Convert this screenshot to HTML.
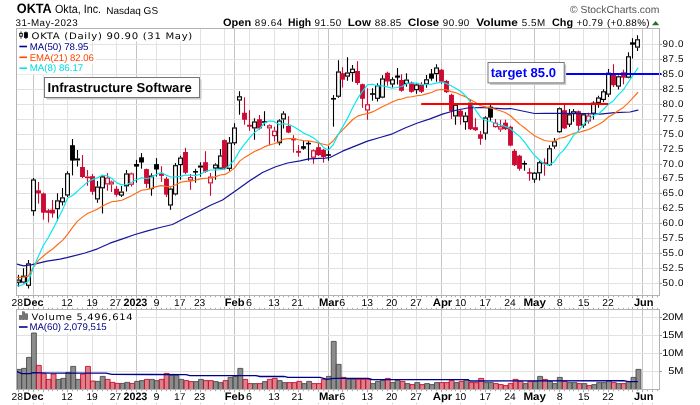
<!DOCTYPE html>
<html><head><meta charset="utf-8"><title>OKTA</title>
<style>
html,body{margin:0;padding:0;background:#fff}
svg{display:block;will-change:transform}
text{font-family:"Liberation Sans",sans-serif;font-size:10px;fill:#000;text-rendering:geometricPrecision}
.v{font-family:"DejaVu Sans","Liberation Sans",sans-serif}
</style></head><body>
<svg width="700" height="405" viewBox="0 0 700 405">
<rect width="700" height="405" fill="#fff"/>
<!-- header -->
<text x="16.75" y="13.3" textLength="35.04" lengthAdjust="spacingAndGlyphs" style="font-size:13.6px;font-weight:bold" >OKTA</text>
<text x="55.0" y="13.3" textLength="46.0" lengthAdjust="spacingAndGlyphs" style="font-size:11.9px" >Okta, Inc.</text>
<text x="106.25" y="13.5" textLength="51.8" lengthAdjust="spacing" style="font-size:10px" >Nasdaq GS</text>
<text x="15.5" y="26.1" textLength="62.1" lengthAdjust="spacing" style="font-size:9.8px" >31-May-2023</text>
<text x="570.0" y="12.8" textLength="89.36" lengthAdjust="spacingAndGlyphs" style="font-size:10.3px;fill:#555" >© StockCharts.com</text>
<text x="223.0" y="25.7" textLength="28.1" lengthAdjust="spacingAndGlyphs" style="font-size:10.8px;font-weight:bold" >Open</text><text x="254.8" y="25.7" textLength="27.48" lengthAdjust="spacing" style="font-size:9.8px" >89.64</text><text x="288.0" y="25.7" textLength="23.1" lengthAdjust="spacingAndGlyphs" style="font-size:10.8px;font-weight:bold" >High</text><text x="314.5" y="25.7" textLength="26.6" lengthAdjust="spacing" style="font-size:9.8px" >91.50</text><text x="347.8" y="25.7" textLength="23.1" lengthAdjust="spacingAndGlyphs" style="font-size:10.8px;font-weight:bold" >Low</text><text x="374.8" y="25.7" textLength="26.48" lengthAdjust="spacing" style="font-size:9.8px" >88.85</text>
<text x="408.0" y="25.7" textLength="31.1" lengthAdjust="spacingAndGlyphs" style="font-size:10.8px;font-weight:bold" >Close</text><text x="442.8" y="25.7" textLength="26.48" lengthAdjust="spacing" style="font-size:9.8px" >90.90</text><text x="476.2" y="25.7" textLength="41.72" lengthAdjust="spacingAndGlyphs" style="font-size:10.8px;font-weight:bold" >Volume</text><text x="521.8" y="25.7" textLength="23.48" lengthAdjust="spacing" style="font-size:9.8px" >5.5M</text><text x="552.0" y="25.7" textLength="21.1" lengthAdjust="spacingAndGlyphs" style="font-size:10.8px;font-weight:bold" >Chg</text><text x="576.4" y="25.7" textLength="26.5" lengthAdjust="spacing" style="font-size:9.8px" >+0.79</text><text x="607.0" y="25.7" textLength="42.48" lengthAdjust="spacing" style="font-size:9.8px" >(+0.88%)</text>
<path d="M652 25.3L655.6 21L659.2 25.3Z" fill="#2a6e2a"/>
<!-- main chart -->
<g>
<path d="M33.5 29V295" stroke="#c4c4c4" stroke-width="1"/>
<path d="M43.5 29V295" stroke="#e2e2e2" stroke-width="1"/>
<path d="M67.5 29V295" stroke="#e2e2e2" stroke-width="1"/>
<path d="M92.5 29V295" stroke="#e2e2e2" stroke-width="1"/>
<path d="M116.5 29V295" stroke="#e2e2e2" stroke-width="1"/>
<path d="M136.5 29V295" stroke="#c4c4c4" stroke-width="1"/>
<path d="M156.5 29V295" stroke="#e2e2e2" stroke-width="1"/>
<path d="M180.5 29V295" stroke="#e2e2e2" stroke-width="1"/>
<path d="M200.5 29V295" stroke="#e2e2e2" stroke-width="1"/>
<path d="M224.5 29V295" stroke="#e2e2e2" stroke-width="1"/>
<path d="M234.5 29V295" stroke="#c4c4c4" stroke-width="1"/>
<path d="M249.5 29V295" stroke="#e2e2e2" stroke-width="1"/>
<path d="M274.5 29V295" stroke="#e2e2e2" stroke-width="1"/>
<path d="M298.5 29V295" stroke="#e2e2e2" stroke-width="1"/>
<path d="M318.5 29V295" stroke="#e2e2e2" stroke-width="1"/>
<path d="M328.5 29V295" stroke="#c4c4c4" stroke-width="1"/>
<path d="M342.5 29V295" stroke="#e2e2e2" stroke-width="1"/>
<path d="M367.5 29V295" stroke="#e2e2e2" stroke-width="1"/>
<path d="M392.5 29V295" stroke="#e2e2e2" stroke-width="1"/>
<path d="M416.5 29V295" stroke="#e2e2e2" stroke-width="1"/>
<path d="M441.5 29V295" stroke="#c4c4c4" stroke-width="1"/>
<path d="M460.5 29V295" stroke="#e2e2e2" stroke-width="1"/>
<path d="M485.5 29V295" stroke="#e2e2e2" stroke-width="1"/>
<path d="M510.5 29V295" stroke="#e2e2e2" stroke-width="1"/>
<path d="M534.5 29V295" stroke="#c4c4c4" stroke-width="1"/>
<path d="M559.5 29V295" stroke="#e2e2e2" stroke-width="1"/>
<path d="M583.5 29V295" stroke="#e2e2e2" stroke-width="1"/>
<path d="M608.5 29V295" stroke="#e2e2e2" stroke-width="1"/>
<path d="M632.5 29V295" stroke="#e2e2e2" stroke-width="1"/>
<path d="M642.5 29V295" stroke="#c4c4c4" stroke-width="1"/>
<path d="M652.5 29V295" stroke="#e2e2e2" stroke-width="1"/>
<path d="M17 283.5H659" stroke="#e2e2e2" stroke-width="1"/>
<path d="M660 283.5H662" stroke="#999" stroke-width="1"/>
<path d="M17 268.5H659" stroke="#e2e2e2" stroke-width="1"/>
<path d="M660 268.5H662" stroke="#999" stroke-width="1"/>
<path d="M17 253.5H659" stroke="#e2e2e2" stroke-width="1"/>
<path d="M660 253.5H662" stroke="#999" stroke-width="1"/>
<path d="M17 238.5H659" stroke="#e2e2e2" stroke-width="1"/>
<path d="M660 238.5H662" stroke="#999" stroke-width="1"/>
<path d="M17 223.5H659" stroke="#e2e2e2" stroke-width="1"/>
<path d="M660 223.5H662" stroke="#999" stroke-width="1"/>
<path d="M17 208.5H659" stroke="#e2e2e2" stroke-width="1"/>
<path d="M660 208.5H662" stroke="#999" stroke-width="1"/>
<path d="M17 193.5H659" stroke="#e2e2e2" stroke-width="1"/>
<path d="M660 193.5H662" stroke="#999" stroke-width="1"/>
<path d="M17 178.5H659" stroke="#e2e2e2" stroke-width="1"/>
<path d="M660 178.5H662" stroke="#999" stroke-width="1"/>
<path d="M17 164.5H659" stroke="#e2e2e2" stroke-width="1"/>
<path d="M660 164.5H662" stroke="#999" stroke-width="1"/>
<path d="M17 149.5H659" stroke="#e2e2e2" stroke-width="1"/>
<path d="M660 149.5H662" stroke="#999" stroke-width="1"/>
<path d="M17 134.5H659" stroke="#e2e2e2" stroke-width="1"/>
<path d="M660 134.5H662" stroke="#999" stroke-width="1"/>
<path d="M17 119.5H659" stroke="#e2e2e2" stroke-width="1"/>
<path d="M660 119.5H662" stroke="#999" stroke-width="1"/>
<path d="M17 104.5H659" stroke="#e2e2e2" stroke-width="1"/>
<path d="M660 104.5H662" stroke="#999" stroke-width="1"/>
<path d="M17 89.5H659" stroke="#e2e2e2" stroke-width="1"/>
<path d="M660 89.5H662" stroke="#999" stroke-width="1"/>
<path d="M17 74.5H659" stroke="#e2e2e2" stroke-width="1"/>
<path d="M660 74.5H662" stroke="#999" stroke-width="1"/>
<path d="M17 59.5H659" stroke="#e2e2e2" stroke-width="1"/>
<path d="M660 59.5H662" stroke="#999" stroke-width="1"/>
<path d="M17 44.5H659" stroke="#e2e2e2" stroke-width="1"/>
<path d="M660 44.5H662" stroke="#999" stroke-width="1"/>
</g>
<rect x="17" y="29" width="177" height="12.5" fill="#fff"/>
<rect x="17" y="41" width="72.5" height="11.5" fill="#fff"/>
<rect x="17" y="52" width="78.5" height="11.5" fill="#fff"/>
<rect x="17" y="63" width="68" height="11.3" fill="#fff"/>
<g shape-rendering="geometricPrecision">
<path d="M18.5 274.7V279.5M18.5 282.7V286.8" stroke="#000000" stroke-width="1.1"/>
<rect x="16.60" y="280.1" width="3.8" height="2.1" fill="#fff" stroke="#000000" stroke-width="1.15"/>
<path d="M23.5 268.3V275.7M23.5 282.7V283.2" stroke="#000000" stroke-width="1.1"/>
<rect x="21.60" y="276.2" width="3.8" height="5.9" fill="#fff" stroke="#000000" stroke-width="1.15"/>
<path d="M28.5 260.1V263.3M28.5 285.8V288.5" stroke="#000000" stroke-width="1.1"/>
<rect x="26.60" y="263.9" width="3.8" height="21.4" fill="#fff" stroke="#000000" stroke-width="1.15"/>
<path d="M33.5 178.0V179.4M33.5 211.2V215.7" stroke="#000000" stroke-width="1.1"/>
<rect x="31.60" y="180.0" width="3.8" height="30.7" fill="#fff" stroke="#000000" stroke-width="1.15"/>
<path d="M38.5 182.0V203.6" stroke="#cc0a33" stroke-width="1.1"/>
<rect x="36.05" y="190.3" width="4.9" height="3.2" fill="#cc0a33"/>
<path d="M43.5 192.6V219.6" stroke="#cc0a33" stroke-width="1.1"/>
<rect x="41.05" y="193.5" width="4.9" height="19.2" fill="#cc0a33"/>
<path d="M48.5 209.0V222.5" stroke="#cc0a33" stroke-width="1.1"/>
<rect x="46.05" y="210.3" width="4.9" height="2.5" fill="#cc0a33"/>
<path d="M52.5 200.0V217.7" stroke="#cc0a33" stroke-width="1.1"/>
<rect x="50.05" y="209.7" width="4.9" height="3.8" fill="#cc0a33"/>
<path d="M57.5 193.2V200.3M57.5 209.2V220.7" stroke="#000000" stroke-width="1.1"/>
<rect x="55.60" y="200.9" width="3.8" height="7.8" fill="#fff" stroke="#000000" stroke-width="1.15"/>
<path d="M62.5 188.1V197.3M62.5 202.3V205.6" stroke="#000000" stroke-width="1.1"/>
<rect x="60.60" y="197.9" width="3.8" height="3.9" fill="#fff" stroke="#000000" stroke-width="1.15"/>
<path d="M67.5 171.2V173.2M67.5 195.5V197.0" stroke="#000000" stroke-width="1.1"/>
<rect x="65.60" y="173.8" width="3.8" height="21.2" fill="#fff" stroke="#000000" stroke-width="1.15"/>
<path d="M72.5 139.0V175.4" stroke="#000000" stroke-width="1.1"/>
<rect x="70.05" y="145.2" width="4.9" height="15.4" fill="#000000"/>
<path d="M77.5 150.0V158.4M77.5 160.4V166.6" stroke="#000000" stroke-width="1.1"/>
<rect x="75.60" y="159.0" width="3.8" height="0.9" fill="#fff" stroke="#000000" stroke-width="1.15"/>
<path d="M82.5 155.0V178.0" stroke="#cc0a33" stroke-width="1.1"/>
<rect x="80.05" y="167.0" width="4.9" height="10.0" fill="#cc0a33"/>
<path d="M87.5 170.0V176.6M87.5 178.2V185.8" stroke="#cc0a33" stroke-width="1.1"/>
<rect x="85.60" y="177.1" width="3.8" height="0.5" fill="#fff" stroke="#cc0a33" stroke-width="1.15"/>
<path d="M92.5 174.0V194.8" stroke="#cc0a33" stroke-width="1.1"/>
<rect x="90.05" y="176.2" width="4.9" height="15.6" fill="#cc0a33"/>
<path d="M97.5 181.1V186.5M97.5 199.4V202.8" stroke="#000000" stroke-width="1.1"/>
<rect x="95.60" y="187.1" width="3.8" height="11.8" fill="#fff" stroke="#000000" stroke-width="1.15"/>
<path d="M102.5 174.7V176.3M102.5 188.3V213.5" stroke="#000000" stroke-width="1.1"/>
<rect x="100.60" y="176.9" width="3.8" height="10.9" fill="#fff" stroke="#000000" stroke-width="1.15"/>
<path d="M107.5 173.0V177.5M107.5 184.4V190.7" stroke="#cc0a33" stroke-width="1.1"/>
<rect x="105.60" y="178.1" width="3.8" height="5.8" fill="#fff" stroke="#cc0a33" stroke-width="1.15"/>
<path d="M111.5 180.5V181.5M111.5 184.4V192.0" stroke="#cc0a33" stroke-width="1.1"/>
<rect x="109.60" y="182.1" width="3.8" height="1.8" fill="#fff" stroke="#cc0a33" stroke-width="1.15"/>
<path d="M116.5 186.1V196.7" stroke="#cc0a33" stroke-width="1.1"/>
<rect x="114.05" y="188.8" width="4.9" height="6.0" fill="#cc0a33"/>
<path d="M121.5 186.1V191.5M121.5 195.6V197.0" stroke="#000000" stroke-width="1.1"/>
<rect x="119.60" y="192.1" width="3.8" height="3.0" fill="#fff" stroke="#000000" stroke-width="1.15"/>
<path d="M126.5 170.0V173.4M126.5 186.3V191.6" stroke="#000000" stroke-width="1.1"/>
<rect x="124.60" y="174.0" width="3.8" height="11.8" fill="#fff" stroke="#000000" stroke-width="1.15"/>
<path d="M131.5 172.6V173.3M131.5 184.7V186.6" stroke="#cc0a33" stroke-width="1.1"/>
<rect x="129.60" y="173.9" width="3.8" height="10.3" fill="#fff" stroke="#cc0a33" stroke-width="1.15"/>
<path d="M136.5 159.9V182.6" stroke="#000000" stroke-width="1.1"/>
<rect x="134.05" y="164.0" width="4.9" height="2.6" fill="#000000"/>
<path d="M141.5 153.1V168.7" stroke="#000000" stroke-width="1.1"/>
<rect x="139.05" y="157.3" width="4.9" height="5.2" fill="#000000"/>
<path d="M146.5 168.6V187.8" stroke="#cc0a33" stroke-width="1.1"/>
<rect x="144.05" y="169.1" width="4.9" height="14.8" fill="#cc0a33"/>
<path d="M151.5 173.3V175.5M151.5 189.1V195.8" stroke="#000000" stroke-width="1.1"/>
<rect x="149.60" y="176.1" width="3.8" height="12.5" fill="#fff" stroke="#000000" stroke-width="1.15"/>
<path d="M156.5 158.1V176.6" stroke="#000000" stroke-width="1.1"/>
<rect x="154.05" y="164.1" width="4.9" height="5.4" fill="#000000"/>
<path d="M161.5 166.2V181.9" stroke="#cc0a33" stroke-width="1.1"/>
<rect x="159.05" y="173.7" width="4.9" height="2.2" fill="#cc0a33"/>
<path d="M166.5 176.8V197.0" stroke="#cc0a33" stroke-width="1.1"/>
<rect x="164.05" y="178.8" width="4.9" height="15.9" fill="#cc0a33"/>
<path d="M170.5 187.5V188.5M170.5 205.5V209.7" stroke="#000000" stroke-width="1.1"/>
<rect x="168.60" y="189.1" width="3.8" height="15.9" fill="#fff" stroke="#000000" stroke-width="1.15"/>
<path d="M175.5 163.0V165.1M175.5 194.4V195.6" stroke="#000000" stroke-width="1.1"/>
<rect x="173.60" y="165.7" width="3.8" height="28.2" fill="#fff" stroke="#000000" stroke-width="1.15"/>
<path d="M180.5 155.8V157.5M180.5 165.1V179.7" stroke="#000000" stroke-width="1.1"/>
<rect x="178.60" y="158.1" width="3.8" height="6.5" fill="#fff" stroke="#000000" stroke-width="1.15"/>
<path d="M185.5 147.8V174.1" stroke="#cc0a33" stroke-width="1.1"/>
<rect x="183.05" y="152.0" width="4.9" height="20.8" fill="#cc0a33"/>
<path d="M190.5 174.1V177.0M190.5 180.5V189.8" stroke="#cc0a33" stroke-width="1.1"/>
<rect x="188.60" y="177.6" width="3.8" height="2.4" fill="#fff" stroke="#cc0a33" stroke-width="1.15"/>
<path d="M195.5 168.8V182.7" stroke="#000000" stroke-width="1.1"/>
<rect x="193.05" y="171.0" width="4.9" height="1.6" fill="#000000"/>
<path d="M200.5 162.2V165.5M200.5 167.5V176.7" stroke="#000000" stroke-width="1.1"/>
<rect x="198.60" y="166.1" width="3.8" height="0.9" fill="#fff" stroke="#000000" stroke-width="1.15"/>
<path d="M205.5 151.2V172.8" stroke="#cc0a33" stroke-width="1.1"/>
<rect x="203.05" y="162.2" width="4.9" height="9.4" fill="#cc0a33"/>
<path d="M210.5 173.1V176.5M210.5 183.4V195.8" stroke="#cc0a33" stroke-width="1.1"/>
<rect x="208.60" y="177.1" width="3.8" height="5.8" fill="#fff" stroke="#cc0a33" stroke-width="1.15"/>
<path d="M215.5 163.2V164.5M215.5 168.5V179.7" stroke="#000000" stroke-width="1.1"/>
<rect x="213.60" y="165.1" width="3.8" height="2.9" fill="#fff" stroke="#000000" stroke-width="1.15"/>
<path d="M220.5 149.0V155.4M220.5 168.6V170.0" stroke="#000000" stroke-width="1.1"/>
<rect x="218.60" y="156.0" width="3.8" height="12.1" fill="#fff" stroke="#000000" stroke-width="1.15"/>
<path d="M224.5 139.5V169.7" stroke="#cc0a33" stroke-width="1.1"/>
<rect x="222.05" y="140.1" width="4.9" height="28.5" fill="#cc0a33"/>
<path d="M229.5 137.1V142.5M229.5 168.8V170.8" stroke="#000000" stroke-width="1.1"/>
<rect x="227.60" y="143.1" width="3.8" height="25.2" fill="#fff" stroke="#000000" stroke-width="1.15"/>
<path d="M234.5 123.2V127.4M234.5 143.3V145.0" stroke="#000000" stroke-width="1.1"/>
<rect x="232.60" y="128.0" width="3.8" height="14.8" fill="#fff" stroke="#000000" stroke-width="1.15"/>
<path d="M239.5 91.3V96.2M239.5 100.5V114.7" stroke="#000000" stroke-width="1.1"/>
<rect x="237.60" y="96.8" width="3.8" height="3.2" fill="#fff" stroke="#000000" stroke-width="1.15"/>
<path d="M244.5 97.3V124.7" stroke="#cc0a33" stroke-width="1.1"/>
<rect x="242.05" y="112.8" width="4.9" height="7.0" fill="#cc0a33"/>
<path d="M249.5 110.2V130.8" stroke="#cc0a33" stroke-width="1.1"/>
<rect x="247.05" y="124.8" width="4.9" height="1.9" fill="#cc0a33"/>
<path d="M254.5 118.3V121.5M254.5 128.5V139.8" stroke="#000000" stroke-width="1.1"/>
<rect x="252.60" y="122.0" width="3.8" height="5.9" fill="#fff" stroke="#000000" stroke-width="1.15"/>
<path d="M259.5 115.0V129.7" stroke="#cc0a33" stroke-width="1.1"/>
<rect x="257.05" y="119.2" width="4.9" height="9.3" fill="#cc0a33"/>
<path d="M264.5 111.2V125.8" stroke="#000000" stroke-width="1.1"/>
<rect x="262.05" y="121.2" width="4.9" height="1.6" fill="#000000"/>
<path d="M269.5 124.5V125.2M269.5 128.4V145.2" stroke="#cc0a33" stroke-width="1.1"/>
<rect x="267.60" y="125.8" width="3.8" height="2.1" fill="#fff" stroke="#cc0a33" stroke-width="1.15"/>
<path d="M274.5 126.7V130.6M274.5 136.1V141.5" stroke="#cc0a33" stroke-width="1.1"/>
<rect x="272.60" y="131.2" width="3.8" height="4.4" fill="#fff" stroke="#cc0a33" stroke-width="1.15"/>
<path d="M279.5 119.2V120.5M279.5 143.3V145.2" stroke="#000000" stroke-width="1.1"/>
<rect x="277.60" y="121.0" width="3.8" height="21.7" fill="#fff" stroke="#000000" stroke-width="1.15"/>
<path d="M283.5 111.2V113.5M283.5 119.5V128.6" stroke="#000000" stroke-width="1.1"/>
<rect x="281.60" y="114.0" width="3.8" height="4.9" fill="#fff" stroke="#000000" stroke-width="1.15"/>
<path d="M288.5 116.2V133.2" stroke="#cc0a33" stroke-width="1.1"/>
<rect x="286.05" y="125.9" width="4.9" height="6.7" fill="#cc0a33"/>
<path d="M293.5 135.2V152.6" stroke="#cc0a33" stroke-width="1.1"/>
<rect x="291.05" y="138.4" width="4.9" height="2.0" fill="#cc0a33"/>
<path d="M298.5 145.1V156.6" stroke="#cc0a33" stroke-width="1.1"/>
<rect x="296.05" y="150.9" width="4.9" height="1.9" fill="#cc0a33"/>
<path d="M303.5 140.8V149.8" stroke="#000000" stroke-width="1.1"/>
<rect x="301.05" y="146.2" width="4.9" height="2.5" fill="#000000"/>
<path d="M308.5 140.8V160.7" stroke="#000000" stroke-width="1.1"/>
<rect x="306.05" y="142.8" width="4.9" height="1.6" fill="#000000"/>
<path d="M313.5 149.5V150.2M313.5 157.7V163.7" stroke="#cc0a33" stroke-width="1.1"/>
<rect x="311.60" y="150.8" width="3.8" height="6.4" fill="#fff" stroke="#cc0a33" stroke-width="1.15"/>
<path d="M318.5 143.2V156.0" stroke="#cc0a33" stroke-width="1.1"/>
<rect x="316.05" y="147.2" width="4.9" height="8.0" fill="#cc0a33"/>
<path d="M323.5 148.8V162.7" stroke="#cc0a33" stroke-width="1.1"/>
<rect x="321.05" y="149.8" width="4.9" height="7.2" fill="#cc0a33"/>
<path d="M328.5 146.2V160.7" stroke="#000000" stroke-width="1.1"/>
<rect x="326.05" y="154.2" width="4.9" height="1.6" fill="#000000"/>
<path d="M333.5 95.1V126.7" stroke="#000000" stroke-width="1.1"/>
<rect x="331.05" y="98.0" width="4.9" height="1.6" fill="#000000"/>
<path d="M338.5 60.2V71.5M338.5 96.8V97.7" stroke="#000000" stroke-width="1.1"/>
<rect x="336.60" y="72.0" width="3.8" height="24.2" fill="#fff" stroke="#000000" stroke-width="1.15"/>
<path d="M342.5 67.2V87.5" stroke="#cc0a33" stroke-width="1.1"/>
<rect x="340.05" y="73.2" width="4.9" height="6.5" fill="#cc0a33"/>
<path d="M347.5 57.2V72.5M347.5 76.7V80.7" stroke="#000000" stroke-width="1.1"/>
<rect x="345.60" y="73.0" width="3.8" height="3.1" fill="#fff" stroke="#000000" stroke-width="1.15"/>
<path d="M352.5 65.0V68.7M352.5 73.2V81.8" stroke="#000000" stroke-width="1.1"/>
<rect x="350.60" y="69.2" width="3.8" height="3.4" fill="#fff" stroke="#000000" stroke-width="1.15"/>
<path d="M357.5 61.2V84.8" stroke="#cc0a33" stroke-width="1.1"/>
<rect x="355.05" y="71.0" width="4.9" height="12.0" fill="#cc0a33"/>
<path d="M362.5 83.6V107.8" stroke="#cc0a33" stroke-width="1.1"/>
<rect x="360.05" y="84.2" width="4.9" height="14.6" fill="#cc0a33"/>
<path d="M367.5 88.3V104.2M367.5 110.5V119.8" stroke="#cc0a33" stroke-width="1.1"/>
<rect x="365.60" y="104.8" width="3.8" height="5.2" fill="#fff" stroke="#cc0a33" stroke-width="1.15"/>
<path d="M372.5 88.2V100.7" stroke="#000000" stroke-width="1.1"/>
<rect x="370.05" y="93.2" width="4.9" height="1.6" fill="#000000"/>
<path d="M377.5 83.3V85.2M377.5 98.8V101.6" stroke="#000000" stroke-width="1.1"/>
<rect x="375.60" y="85.8" width="3.8" height="12.5" fill="#fff" stroke="#000000" stroke-width="1.15"/>
<path d="M382.5 75.2V78.5M382.5 97.7V98.2" stroke="#000000" stroke-width="1.1"/>
<rect x="380.60" y="79.0" width="3.8" height="18.1" fill="#fff" stroke="#000000" stroke-width="1.15"/>
<path d="M387.5 71.7V85.7" stroke="#cc0a33" stroke-width="1.1"/>
<rect x="385.05" y="72.8" width="4.9" height="8.7" fill="#cc0a33"/>
<path d="M392.5 77.3V79.2M392.5 84.5V87.5" stroke="#000000" stroke-width="1.1"/>
<rect x="390.60" y="79.8" width="3.8" height="4.2" fill="#fff" stroke="#000000" stroke-width="1.15"/>
<path d="M397.5 68.0V84.5" stroke="#000000" stroke-width="1.1"/>
<rect x="395.05" y="75.5" width="4.9" height="2.2" fill="#000000"/>
<path d="M401.5 74.3V91.7" stroke="#cc0a33" stroke-width="1.1"/>
<rect x="399.05" y="80.0" width="4.9" height="10.8" fill="#cc0a33"/>
<path d="M406.5 73.2V79.6M406.5 84.1V86.7" stroke="#000000" stroke-width="1.1"/>
<rect x="404.60" y="80.1" width="3.8" height="3.4" fill="#fff" stroke="#000000" stroke-width="1.15"/>
<path d="M411.5 81.5V92.7" stroke="#cc0a33" stroke-width="1.1"/>
<rect x="409.05" y="82.6" width="4.9" height="9.2" fill="#cc0a33"/>
<path d="M416.5 83.2V84.5M416.5 90.3V93.8" stroke="#000000" stroke-width="1.1"/>
<rect x="414.60" y="85.0" width="3.8" height="4.7" fill="#fff" stroke="#000000" stroke-width="1.15"/>
<path d="M421.5 82.2V93.0" stroke="#cc0a33" stroke-width="1.1"/>
<rect x="419.05" y="84.8" width="4.9" height="7.0" fill="#cc0a33"/>
<path d="M426.5 75.0V79.2M426.5 84.3V87.7" stroke="#000000" stroke-width="1.1"/>
<rect x="424.60" y="79.8" width="3.8" height="4.0" fill="#fff" stroke="#000000" stroke-width="1.15"/>
<path d="M431.5 69.0V80.7" stroke="#000000" stroke-width="1.1"/>
<rect x="429.05" y="73.5" width="4.9" height="5.2" fill="#000000"/>
<path d="M436.5 64.2V67.5M436.5 74.2V81.7" stroke="#000000" stroke-width="1.1"/>
<rect x="434.60" y="68.0" width="3.8" height="5.6" fill="#fff" stroke="#000000" stroke-width="1.15"/>
<path d="M441.5 69.0V84.0" stroke="#cc0a33" stroke-width="1.1"/>
<rect x="439.05" y="69.7" width="4.9" height="12.0" fill="#cc0a33"/>
<path d="M446.5 79.8V92.8" stroke="#cc0a33" stroke-width="1.1"/>
<rect x="444.05" y="81.0" width="4.9" height="11.2" fill="#cc0a33"/>
<path d="M451.5 93.7V119.0" stroke="#cc0a33" stroke-width="1.1"/>
<rect x="449.05" y="94.8" width="4.9" height="16.3" fill="#cc0a33"/>
<path d="M455.5 104.0V104.7M455.5 116.5V124.7" stroke="#000000" stroke-width="1.1"/>
<rect x="453.60" y="105.2" width="3.8" height="10.7" fill="#fff" stroke="#000000" stroke-width="1.15"/>
<path d="M460.5 110.0V124.7" stroke="#cc0a33" stroke-width="1.1"/>
<rect x="458.05" y="110.7" width="4.9" height="6.0" fill="#cc0a33"/>
<path d="M465.5 112.2V115.6M465.5 122.3V129.8" stroke="#000000" stroke-width="1.1"/>
<rect x="463.60" y="116.1" width="3.8" height="5.6" fill="#fff" stroke="#000000" stroke-width="1.15"/>
<path d="M470.5 100.0V130.0" stroke="#cc0a33" stroke-width="1.1"/>
<rect x="468.05" y="102.5" width="4.9" height="26.7" fill="#cc0a33"/>
<path d="M475.5 118.2V131.0" stroke="#cc0a33" stroke-width="1.1"/>
<rect x="473.05" y="127.2" width="4.9" height="3.0" fill="#cc0a33"/>
<path d="M480.5 131.0V144.8" stroke="#cc0a33" stroke-width="1.1"/>
<rect x="478.05" y="134.3" width="4.9" height="4.5" fill="#cc0a33"/>
<path d="M485.5 116.3V117.5M485.5 133.7V139.7" stroke="#000000" stroke-width="1.1"/>
<rect x="483.60" y="118.0" width="3.8" height="15.1" fill="#fff" stroke="#000000" stroke-width="1.15"/>
<path d="M490.5 104.7V120.8" stroke="#000000" stroke-width="1.1"/>
<rect x="488.05" y="106.7" width="4.9" height="10.9" fill="#000000"/>
<path d="M495.5 119.0V122.7M495.5 127.2V127.8" stroke="#cc0a33" stroke-width="1.1"/>
<rect x="493.60" y="123.2" width="3.8" height="3.4" fill="#fff" stroke="#cc0a33" stroke-width="1.15"/>
<path d="M500.5 119.7V126.2M500.5 129.5V131.7" stroke="#cc0a33" stroke-width="1.1"/>
<rect x="498.60" y="126.8" width="3.8" height="2.2" fill="#fff" stroke="#cc0a33" stroke-width="1.15"/>
<path d="M505.5 119.7V130.0" stroke="#cc0a33" stroke-width="1.1"/>
<rect x="503.05" y="122.7" width="4.9" height="6.5" fill="#cc0a33"/>
<path d="M510.5 125.7V146.2" stroke="#cc0a33" stroke-width="1.1"/>
<rect x="508.05" y="126.8" width="4.9" height="18.8" fill="#cc0a33"/>
<path d="M514.5 149.0V166.0" stroke="#cc0a33" stroke-width="1.1"/>
<rect x="512.05" y="150.8" width="4.9" height="14.4" fill="#cc0a33"/>
<path d="M519.5 154.8V170.7" stroke="#cc0a33" stroke-width="1.1"/>
<rect x="517.05" y="155.7" width="4.9" height="13.1" fill="#cc0a33"/>
<path d="M524.5 160.7V170.7" stroke="#000000" stroke-width="1.1"/>
<rect x="522.05" y="163.0" width="4.9" height="1.6" fill="#000000"/>
<path d="M529.5 168.2V180.8" stroke="#cc0a33" stroke-width="1.1"/>
<rect x="527.05" y="172.1" width="4.9" height="1.6" fill="#cc0a33"/>
<path d="M534.5 172.0V172.7M534.5 179.7V182.7" stroke="#000000" stroke-width="1.1"/>
<rect x="532.60" y="173.2" width="3.8" height="5.9" fill="#fff" stroke="#000000" stroke-width="1.15"/>
<path d="M539.5 161.0V162.2M539.5 173.3V180.5" stroke="#000000" stroke-width="1.1"/>
<rect x="537.60" y="162.8" width="3.8" height="10.0" fill="#fff" stroke="#000000" stroke-width="1.15"/>
<path d="M544.5 158.3V175.7" stroke="#cc0a33" stroke-width="1.1"/>
<rect x="542.05" y="162.3" width="4.9" height="1.6" fill="#cc0a33"/>
<path d="M549.5 145.2V148.2M549.5 165.2V166.0" stroke="#000000" stroke-width="1.1"/>
<rect x="547.60" y="148.8" width="3.8" height="15.9" fill="#fff" stroke="#000000" stroke-width="1.15"/>
<path d="M554.5 138.0V141.2M554.5 146.5V148.7" stroke="#000000" stroke-width="1.1"/>
<rect x="552.60" y="141.8" width="3.8" height="4.2" fill="#fff" stroke="#000000" stroke-width="1.15"/>
<path d="M559.5 107.5V108.2M559.5 132.2V132.8" stroke="#000000" stroke-width="1.1"/>
<rect x="557.60" y="108.8" width="3.8" height="22.9" fill="#fff" stroke="#000000" stroke-width="1.15"/>
<path d="M564.5 104.2V129.0" stroke="#cc0a33" stroke-width="1.1"/>
<rect x="562.05" y="110.2" width="4.9" height="18.2" fill="#cc0a33"/>
<path d="M569.5 109.0V114.2M569.5 124.7V127.0" stroke="#000000" stroke-width="1.1"/>
<rect x="567.60" y="114.8" width="3.8" height="9.4" fill="#fff" stroke="#000000" stroke-width="1.15"/>
<path d="M573.5 109.0V111.2M573.5 114.0V121.7" stroke="#000000" stroke-width="1.1"/>
<rect x="571.60" y="111.8" width="3.8" height="1.7" fill="#fff" stroke="#000000" stroke-width="1.15"/>
<path d="M578.5 110.5V131.5" stroke="#cc0a33" stroke-width="1.1"/>
<rect x="576.05" y="111.2" width="4.9" height="14.6" fill="#cc0a33"/>
<path d="M583.5 113.2V114.2M583.5 125.5V127.7" stroke="#000000" stroke-width="1.1"/>
<rect x="581.60" y="114.8" width="3.8" height="10.2" fill="#fff" stroke="#000000" stroke-width="1.15"/>
<path d="M588.5 112.7V115.5M588.5 121.5V123.7" stroke="#cc0a33" stroke-width="1.1"/>
<rect x="586.60" y="116.0" width="3.8" height="4.9" fill="#fff" stroke="#cc0a33" stroke-width="1.15"/>
<path d="M593.5 101.2V102.7M593.5 113.8V119.5" stroke="#000000" stroke-width="1.1"/>
<rect x="591.60" y="103.2" width="3.8" height="10.0" fill="#fff" stroke="#000000" stroke-width="1.15"/>
<path d="M598.5 95.8V97.5M598.5 103.0V107.8" stroke="#000000" stroke-width="1.1"/>
<rect x="596.60" y="98.0" width="3.8" height="4.4" fill="#fff" stroke="#000000" stroke-width="1.15"/>
<path d="M603.5 89.2V91.3M603.5 100.0V102.2" stroke="#000000" stroke-width="1.1"/>
<rect x="601.60" y="91.8" width="3.8" height="7.6" fill="#fff" stroke="#000000" stroke-width="1.15"/>
<path d="M608.5 69.0V72.7M608.5 94.7V97.0" stroke="#000000" stroke-width="1.1"/>
<rect x="606.60" y="73.2" width="3.8" height="20.9" fill="#fff" stroke="#000000" stroke-width="1.15"/>
<path d="M613.5 64.2V87.0" stroke="#cc0a33" stroke-width="1.1"/>
<rect x="611.05" y="74.7" width="4.9" height="10.5" fill="#cc0a33"/>
<path d="M618.5 75.5V76.2M618.5 86.6V89.6" stroke="#000000" stroke-width="1.1"/>
<rect x="616.60" y="76.8" width="3.8" height="9.3" fill="#fff" stroke="#000000" stroke-width="1.15"/>
<path d="M623.5 69.7V84.3" stroke="#cc0a33" stroke-width="1.1"/>
<rect x="621.05" y="72.3" width="4.9" height="5.4" fill="#cc0a33"/>
<path d="M628.5 52.2V56.2M628.5 77.7V78.3" stroke="#000000" stroke-width="1.1"/>
<rect x="626.60" y="56.8" width="3.8" height="20.4" fill="#fff" stroke="#000000" stroke-width="1.15"/>
<path d="M632.5 38.2V58.5" stroke="#000000" stroke-width="1.1"/>
<rect x="630.05" y="42.3" width="4.9" height="2.4" fill="#000000"/>
<path d="M637.5 35.2V39.3M637.5 47.7V51.1" stroke="#000000" stroke-width="1.1"/>
<rect x="635.60" y="39.8" width="3.8" height="7.3" fill="#fff" stroke="#000000" stroke-width="1.15"/>
</g>
<path d="M17.0 264.2 L23.6 265.8 L32.2 264.6 L47.0 261.1 L60.0 259.2 L66.8 257.7 L85.0 253.0 L97.5 248.8 L110.0 243.2 L122.5 238.8 L135.0 234.5 L147.5 230.8 L160.0 227.5 L172.5 224.5 L185.0 218.0 L197.5 212.0 L210.0 205.5 L222.5 200.0 L237.5 189.5 L250.0 180.5 L262.5 172.5 L275.0 167.0 L287.5 163.0 L300.0 160.8 L308.8 158.8 L325.0 158.2 L330.0 157.5 L337.5 153.8 L342.5 151.2 L355.0 146.2 L367.5 141.2 L380.0 137.5 L392.5 133.8 L405.0 128.0 L417.5 123.0 L430.0 118.8 L442.5 114.2 L455.0 110.5 L467.5 108.0 L480.0 107.5 L492.5 108.2 L505.0 108.8 L510.5 108.5 L534.5 113.5 L545.0 113.4 L560.0 113.3 L585.0 113.6 L600.0 114.2 L615.0 112.7 L630.0 112.0 L637.9 110.2" fill="none" stroke="#15159a" stroke-width="1.25" stroke-linejoin="round" stroke-linecap="round"/>
<path d="M17.0 277.4 L18.6 277.4 L23.5 277.3 L28.4 276.1 L33.3 267.3 L38.2 260.6 L43.1 256.2 L48.0 252.2 L53.0 248.7 L57.9 244.3 L62.8 240.1 L67.7 234.1 L72.6 227.4 L77.5 221.1 L82.4 217.1 L87.4 213.5 L92.3 211.5 L97.2 209.2 L102.1 206.3 L107.0 203.7 L111.9 201.7 L116.8 201.1 L121.8 200.3 L126.7 197.9 L131.6 195.7 L136.5 193.0 L141.4 190.2 L146.3 189.6 L151.3 188.4 L156.2 186.6 L161.1 185.6 L166.0 186.4 L170.9 186.7 L175.8 184.7 L180.7 182.3 L185.7 181.4 L190.6 181.1 L195.5 180.2 L200.4 178.9 L205.3 178.2 L210.2 178.1 L215.2 176.9 L220.1 175.0 L225.0 174.4 L229.9 171.6 L234.8 167.6 L239.7 161.1 L244.6 157.4 L249.6 154.5 L254.5 151.5 L259.4 149.4 L264.3 146.9 L269.2 145.0 L274.1 143.7 L279.0 141.7 L284.0 139.1 L288.9 138.5 L293.8 138.6 L298.7 139.8 L303.6 140.6 L308.5 140.9 L313.4 141.8 L318.4 142.9 L323.3 144.2 L328.2 145.2 L333.1 141.0 L338.0 134.7 L342.9 129.7 L347.9 124.5 L352.8 119.5 L357.7 116.1 L362.6 114.5 L367.5 113.6 L372.4 111.9 L377.3 109.5 L382.3 106.7 L387.2 104.4 L392.1 102.1 L397.0 99.9 L401.9 99.0 L406.8 97.3 L411.8 96.8 L416.7 95.7 L421.6 95.3 L426.5 93.9 L431.4 92.5 L436.3 90.3 L441.2 89.5 L446.2 89.7 L451.1 91.6 L456.0 92.8 L460.9 95.0 L465.8 96.9 L470.7 99.8 L475.6 102.5 L480.6 105.8 L485.5 106.9 L490.4 107.9 L495.3 109.3 L500.2 110.8 L505.1 112.5 L510.1 115.5 L515.0 120.0 L519.9 124.4 L524.8 128.0 L529.7 132.1 L534.6 135.8 L539.5 138.2 L544.5 140.5 L549.4 141.2 L554.3 141.3 L559.2 138.3 L564.1 137.4 L569.0 135.3 L573.9 133.2 L578.9 132.5 L583.8 130.9 L588.7 129.5 L593.6 127.1 L598.5 124.5 L603.4 121.5 L608.3 117.1 L613.3 114.2 L618.2 110.8 L623.1 107.7 L628.0 103.1 L632.9 97.8 L637.8 92.5" fill="none" stroke="#ff6a14" stroke-width="1.15" stroke-linejoin="round" stroke-linecap="round"/>
<path d="M17.0 285.4 L18.6 286.0 L23.5 284.5 L28.4 281.0 L33.3 268.0 L38.2 256.7 L43.1 246.0 L48.0 238.0 L53.0 228.9 L57.9 219.0 L62.8 209.2 L67.7 197.9 L72.6 195.5 L77.5 191.2 L82.4 186.7 L87.4 182.3 L92.3 179.6 L97.2 177.9 L102.1 175.2 L107.0 175.8 L111.9 178.5 L116.8 182.9 L121.8 184.9 L126.7 184.5 L131.6 182.2 L136.5 179.7 L141.4 177.8 L146.3 178.5 L151.3 177.8 L156.2 174.6 L161.1 172.6 L166.0 175.1 L170.9 177.0 L175.8 176.9 L180.7 176.4 L185.7 175.0 L190.6 175.2 L195.5 175.6 L200.4 174.3 L205.3 171.5 L210.2 170.0 L215.2 169.9 L220.1 169.6 L225.0 169.1 L229.9 164.8 L234.8 159.3 L239.7 150.6 L244.6 144.2 L249.6 137.8 L254.5 132.4 L259.4 128.9 L264.3 123.1 L269.2 121.0 L274.1 121.4 L279.0 124.4 L284.0 123.7 L288.9 124.5 L293.8 126.7 L298.7 129.7 L303.6 133.0 L308.5 135.2 L313.4 137.7 L318.4 141.9 L323.3 147.2 L328.2 150.1 L333.1 145.0 L338.0 135.0 L342.9 126.4 L347.9 117.6 L352.8 107.4 L357.7 98.4 L362.6 91.1 L367.5 84.8 L372.4 84.2 L377.3 85.9 L382.3 85.8 L387.2 86.9 L392.1 88.2 L397.0 87.5 L401.9 86.5 L406.8 83.4 L411.8 83.1 L416.7 83.0 L421.6 84.6 L426.5 84.4 L431.4 84.3 L436.3 83.1 L441.2 82.0 L446.2 83.4 L451.1 85.8 L456.0 88.4 L460.9 91.5 L465.8 96.0 L470.7 102.3 L475.6 110.1 L480.6 117.2 L485.5 120.5 L490.4 121.3 L495.3 123.5 L500.2 124.8 L505.1 126.4 L510.1 128.5 L515.0 132.8 L519.9 136.6 L524.8 142.3 L529.7 149.3 L534.6 155.5 L539.5 160.0 L544.5 164.3 L549.4 164.7 L554.3 161.8 L559.2 154.4 L564.1 149.9 L569.0 142.6 L573.9 134.9 L578.9 130.3 L583.8 124.2 L588.7 120.1 L593.6 115.3 L598.5 114.0 L603.4 109.5 L608.3 104.3 L613.3 100.9 L618.2 94.8 L623.1 90.2 L628.0 82.7 L632.9 75.4 L637.8 68.1" fill="none" stroke="#00e8f0" stroke-width="1.15" stroke-linejoin="round" stroke-linecap="round"/>
<path d="M421.2 104H608.2" stroke="#ff0000" stroke-width="2.2"/>
<path d="M564 74H661.5" stroke="#0000ff" stroke-width="2.2"/>
<rect x="16.5" y="28.5" width="643" height="267" fill="none" stroke="#b2b2b2" stroke-width="1"/>
<path d="M18.5 296v2.2M23.5 296v1.2M28.5 296v1.2M33.5 296v2.2M38.5 296v1.2M43.5 296v2.2M48.5 296v1.2M52.5 296v1.2M57.5 296v1.2M62.5 296v1.2M67.5 296v2.2M72.5 296v1.2M77.5 296v1.2M82.5 296v1.2M87.5 296v1.2M92.5 296v2.2M97.5 296v1.2M102.5 296v1.2M107.5 296v1.2M111.5 296v1.2M116.5 296v2.2M121.5 296v1.2M126.5 296v1.2M131.5 296v1.2M136.5 296v2.2M141.5 296v1.2M146.5 296v1.2M151.5 296v1.2M156.5 296v2.2M161.5 296v1.2M166.5 296v1.2M170.5 296v1.2M175.5 296v1.2M180.5 296v2.2M185.5 296v1.2M190.5 296v1.2M195.5 296v1.2M200.5 296v2.2M205.5 296v1.2M210.5 296v1.2M215.5 296v1.2M220.5 296v1.2M224.5 296v2.2M229.5 296v1.2M234.5 296v2.2M239.5 296v1.2M244.5 296v1.2M249.5 296v2.2M254.5 296v1.2M259.5 296v1.2M264.5 296v1.2M269.5 296v1.2M274.5 296v2.2M279.5 296v1.2M283.5 296v1.2M288.5 296v1.2M293.5 296v1.2M298.5 296v2.2M303.5 296v1.2M308.5 296v1.2M313.5 296v1.2M318.5 296v2.2M323.5 296v1.2M328.5 296v2.2M333.5 296v1.2M338.5 296v1.2M342.5 296v2.2M347.5 296v1.2M352.5 296v1.2M357.5 296v1.2M362.5 296v1.2M367.5 296v2.2M372.5 296v1.2M377.5 296v1.2M382.5 296v1.2M387.5 296v1.2M392.5 296v2.2M397.5 296v1.2M401.5 296v1.2M406.5 296v1.2M411.5 296v1.2M416.5 296v2.2M421.5 296v1.2M426.5 296v1.2M431.5 296v1.2M436.5 296v1.2M441.5 296v2.2M446.5 296v1.2M451.5 296v1.2M455.5 296v1.2M460.5 296v2.2M465.5 296v1.2M470.5 296v1.2M475.5 296v1.2M480.5 296v1.2M485.5 296v2.2M490.5 296v1.2M495.5 296v1.2M500.5 296v1.2M505.5 296v1.2M510.5 296v2.2M514.5 296v1.2M519.5 296v1.2M524.5 296v1.2M529.5 296v1.2M534.5 296v2.2M539.5 296v1.2M544.5 296v1.2M549.5 296v1.2M554.5 296v1.2M559.5 296v2.2M564.5 296v1.2M569.5 296v1.2M573.5 296v1.2M578.5 296v1.2M583.5 296v2.2M588.5 296v1.2M593.5 296v1.2M598.5 296v1.2M603.5 296v1.2M608.5 296v2.2M613.5 296v1.2M618.5 296v1.2M623.5 296v1.2M628.5 296v1.2M632.5 296v2.2M637.5 296v1.2M642.5 296v2.2M647.5 296v1.2M652.5 296v2.2M657.5 296v1.2" stroke="#aaa" stroke-width="1"/>
<!-- legend -->
<g stroke="#000" stroke-width="0.9" fill="#fff">
<path d="M21 31.5V38.6M25.9 31.5V39"/>
<rect x="19.7" y="33.4" width="2.6" height="2.8"/>
<rect x="24.4" y="32.8" width="3" height="4.6" fill="#000"/>
</g>
<text x="31.6" y="38.8" textLength="161.38" lengthAdjust="spacingAndGlyphs" style="font-size:9px;letter-spacing:0.6px" class="v" >OKTA (Daily) 90.90 (31 May)</text>
<path d="M19.4 46.5H27" stroke="#00008b" stroke-width="1.6"/>
<text x="29.7" y="49.8" textLength="58.74" lengthAdjust="spacingAndGlyphs" style="font-size:9.7px;fill:#00008b" >MA(50) 78.95</text>
<path d="M19.4 57.3H27" stroke="#ff4500" stroke-width="1.6"/>
<text x="29.7" y="60.5" textLength="64.22" lengthAdjust="spacingAndGlyphs" style="font-size:9.7px;fill:#ff4500" >EMA(21) 82.06</text>
<path d="M19.4 68.2H27" stroke="#00e5ee" stroke-width="1.6"/>
<text x="29.7" y="71.4" textLength="53.6" lengthAdjust="spacingAndGlyphs" style="font-size:9.7px;fill:#00dde8" >MA(8) 86.17</text>
<!-- annotations -->
<rect x="46.5" y="79.5" width="155" height="20" fill="#c8c8c8"/>
<rect x="44.5" y="77.5" width="155" height="20" fill="#fff" stroke="#777" stroke-width="1"/>
<text x="47.5" y="92" textLength="144.3" lengthAdjust="spacingAndGlyphs" style="font-size:13px;font-weight:bold" >Infrastructure Software</text>
<rect x="490" y="64.5" width="76.2" height="20.4" fill="#c8c8c8"/>
<rect x="488" y="62.5" width="76.2" height="20.4" fill="#fff" stroke="#777" stroke-width="1"/>
<text x="490.7" y="77.1" textLength="65.36" lengthAdjust="spacingAndGlyphs" style="font-size:13px;font-weight:bold;fill:#0000ff" >target 85.0</text>
<!-- y labels -->
<text x="662.6" y="286.1" textLength="20.8" lengthAdjust="spacing" style="font-size:9.8px">50.0</text>
<text x="662.6" y="271.1" textLength="20.8" lengthAdjust="spacing" style="font-size:9.8px">52.5</text>
<text x="662.6" y="256.1" textLength="20.8" lengthAdjust="spacing" style="font-size:9.8px">55.0</text>
<text x="662.6" y="241.1" textLength="20.8" lengthAdjust="spacing" style="font-size:9.8px">57.5</text>
<text x="662.6" y="226.1" textLength="20.8" lengthAdjust="spacing" style="font-size:9.8px">60.0</text>
<text x="662.6" y="211.1" textLength="20.8" lengthAdjust="spacing" style="font-size:9.8px">62.5</text>
<text x="662.6" y="196.1" textLength="20.8" lengthAdjust="spacing" style="font-size:9.8px">65.0</text>
<text x="662.6" y="181.1" textLength="20.8" lengthAdjust="spacing" style="font-size:9.8px">67.5</text>
<text x="662.6" y="167.1" textLength="20.8" lengthAdjust="spacing" style="font-size:9.8px">70.0</text>
<text x="662.6" y="152.1" textLength="20.8" lengthAdjust="spacing" style="font-size:9.8px">72.5</text>
<text x="662.6" y="137.1" textLength="20.8" lengthAdjust="spacing" style="font-size:9.8px">75.0</text>
<text x="662.6" y="122.1" textLength="20.8" lengthAdjust="spacing" style="font-size:9.8px">77.5</text>
<text x="662.6" y="107.1" textLength="20.8" lengthAdjust="spacing" style="font-size:9.8px">80.0</text>
<text x="662.6" y="92.1" textLength="20.8" lengthAdjust="spacing" style="font-size:9.8px">82.5</text>
<text x="662.6" y="77.1" textLength="20.8" lengthAdjust="spacing" style="font-size:9.8px">85.0</text>
<text x="662.6" y="62.1" textLength="20.8" lengthAdjust="spacing" style="font-size:9.8px">87.5</text>
<text x="662.6" y="47.1" textLength="20.8" lengthAdjust="spacing" style="font-size:9.8px">90.0</text>
<!-- x labels -->
<text x="11.55" y="306.0" textLength="11.4" lengthAdjust="spacingAndGlyphs">28</text>
<text x="23.55" y="306.0" style="font-weight:bold;font-size:10.8px" textLength="19.9" lengthAdjust="spacingAndGlyphs">Dec</text>
<text x="61.20" y="306.0" textLength="11.4" lengthAdjust="spacingAndGlyphs">12</text>
<text x="86.40" y="306.0" textLength="11.4" lengthAdjust="spacingAndGlyphs">19</text>
<text x="109.70" y="306.0" textLength="11.4" lengthAdjust="spacingAndGlyphs">27</text>
<text x="123.45" y="306.0" style="font-weight:bold;font-size:10.8px" textLength="23.9" lengthAdjust="spacingAndGlyphs">2023</text>
<text x="153.50" y="306.0" textLength="6.0" lengthAdjust="spacingAndGlyphs">9</text>
<text x="174.05" y="306.0" textLength="11.4" lengthAdjust="spacingAndGlyphs">17</text>
<text x="193.90" y="306.0" textLength="11.4" lengthAdjust="spacingAndGlyphs">23</text>
<text x="224.70" y="306.0" style="font-weight:bold;font-size:10.8px" textLength="19.8" lengthAdjust="spacingAndGlyphs">Feb</text>
<text x="246.00" y="306.0" textLength="6.0" lengthAdjust="spacingAndGlyphs">6</text>
<text x="268.30" y="306.0" textLength="11.4" lengthAdjust="spacingAndGlyphs">13</text>
<text x="291.55" y="306.0" textLength="11.4" lengthAdjust="spacingAndGlyphs">21</text>
<text x="319.00" y="306.0" style="font-weight:bold;font-size:10.8px" textLength="20.0" lengthAdjust="spacingAndGlyphs">Mar</text>
<text x="339.25" y="306.0" textLength="6.0" lengthAdjust="spacingAndGlyphs">6</text>
<text x="361.55" y="306.0" textLength="11.4" lengthAdjust="spacingAndGlyphs">13</text>
<text x="385.90" y="306.0" textLength="11.4" lengthAdjust="spacingAndGlyphs">20</text>
<text x="410.20" y="306.0" textLength="11.4" lengthAdjust="spacingAndGlyphs">27</text>
<text x="432.70" y="306.0" style="font-weight:bold;font-size:10.8px" textLength="19.6" lengthAdjust="spacingAndGlyphs">Apr</text>
<text x="454.90" y="306.0" textLength="11.4" lengthAdjust="spacingAndGlyphs">10</text>
<text x="479.55" y="306.0" textLength="11.4" lengthAdjust="spacingAndGlyphs">17</text>
<text x="504.30" y="306.0" textLength="11.4" lengthAdjust="spacingAndGlyphs">24</text>
<text x="523.45" y="306.0" style="font-weight:bold;font-size:10.8px" textLength="22.6" lengthAdjust="spacingAndGlyphs">May</text>
<text x="556.75" y="306.0" textLength="6.0" lengthAdjust="spacingAndGlyphs">8</text>
<text x="578.05" y="306.0" textLength="11.4" lengthAdjust="spacingAndGlyphs">15</text>
<text x="602.20" y="306.0" textLength="11.4" lengthAdjust="spacingAndGlyphs">22</text>
<text x="634.00" y="306.0" style="font-weight:bold;font-size:10.8px" textLength="19.5" lengthAdjust="spacingAndGlyphs">Jun</text>
<!-- volume panel -->
<path d="M33.5 310V389" stroke="#c4c4c4" stroke-width="1"/>
<path d="M43.5 310V389" stroke="#e2e2e2" stroke-width="1"/>
<path d="M67.5 310V389" stroke="#e2e2e2" stroke-width="1"/>
<path d="M92.5 310V389" stroke="#e2e2e2" stroke-width="1"/>
<path d="M116.5 310V389" stroke="#e2e2e2" stroke-width="1"/>
<path d="M136.5 310V389" stroke="#c4c4c4" stroke-width="1"/>
<path d="M156.5 310V389" stroke="#e2e2e2" stroke-width="1"/>
<path d="M180.5 310V389" stroke="#e2e2e2" stroke-width="1"/>
<path d="M200.5 310V389" stroke="#e2e2e2" stroke-width="1"/>
<path d="M224.5 310V389" stroke="#e2e2e2" stroke-width="1"/>
<path d="M234.5 310V389" stroke="#c4c4c4" stroke-width="1"/>
<path d="M249.5 310V389" stroke="#e2e2e2" stroke-width="1"/>
<path d="M274.5 310V389" stroke="#e2e2e2" stroke-width="1"/>
<path d="M298.5 310V389" stroke="#e2e2e2" stroke-width="1"/>
<path d="M318.5 310V389" stroke="#e2e2e2" stroke-width="1"/>
<path d="M328.5 310V389" stroke="#c4c4c4" stroke-width="1"/>
<path d="M342.5 310V389" stroke="#e2e2e2" stroke-width="1"/>
<path d="M367.5 310V389" stroke="#e2e2e2" stroke-width="1"/>
<path d="M392.5 310V389" stroke="#e2e2e2" stroke-width="1"/>
<path d="M416.5 310V389" stroke="#e2e2e2" stroke-width="1"/>
<path d="M441.5 310V389" stroke="#c4c4c4" stroke-width="1"/>
<path d="M460.5 310V389" stroke="#e2e2e2" stroke-width="1"/>
<path d="M485.5 310V389" stroke="#e2e2e2" stroke-width="1"/>
<path d="M510.5 310V389" stroke="#e2e2e2" stroke-width="1"/>
<path d="M534.5 310V389" stroke="#c4c4c4" stroke-width="1"/>
<path d="M559.5 310V389" stroke="#e2e2e2" stroke-width="1"/>
<path d="M583.5 310V389" stroke="#e2e2e2" stroke-width="1"/>
<path d="M608.5 310V389" stroke="#e2e2e2" stroke-width="1"/>
<path d="M632.5 310V389" stroke="#e2e2e2" stroke-width="1"/>
<path d="M642.5 310V389" stroke="#c4c4c4" stroke-width="1"/>
<path d="M652.5 310V389" stroke="#e2e2e2" stroke-width="1"/>
<path d="M17 317.5H659M17 335.5H659M17 353.5H659M17 371.5H659" stroke="#e2e2e2" stroke-width="1"/>
<path d="M660 317.5H662M660 335.5H662M660 353.5H662M660 371.5H662" stroke="#999" stroke-width="1"/>
<rect x="17" y="310" width="118" height="12" fill="#fff"/>
<rect x="17" y="322" width="91" height="11" fill="#fff"/>
<rect x="17.00" y="369.4" width="4.61" height="19.9" fill="#8c8c8c"/>
<rect x="21.61" y="368.4" width="4.91" height="20.9" fill="#8c8c8c"/>
<rect x="26.52" y="357.4" width="4.91" height="31.9" fill="#8c8c8c"/>
<rect x="31.44" y="333.0" width="4.92" height="56.3" fill="#8c8c8c"/>
<rect x="36.35" y="365.4" width="4.92" height="23.9" fill="#df7f8a"/>
<rect x="41.27" y="373.6" width="4.92" height="15.7" fill="#df7f8a"/>
<rect x="46.18" y="379.4" width="4.92" height="9.9" fill="#df7f8a"/>
<rect x="51.10" y="374.0" width="4.92" height="15.3" fill="#df7f8a"/>
<rect x="56.01" y="379.4" width="4.92" height="9.9" fill="#8c8c8c"/>
<rect x="60.93" y="378.4" width="4.91" height="10.9" fill="#8c8c8c"/>
<rect x="65.84" y="372.4" width="4.91" height="16.9" fill="#8c8c8c"/>
<rect x="70.76" y="366.4" width="4.91" height="22.9" fill="#8c8c8c"/>
<rect x="75.67" y="379.4" width="4.91" height="9.9" fill="#8c8c8c"/>
<rect x="80.59" y="374.0" width="4.91" height="15.3" fill="#df7f8a"/>
<rect x="85.50" y="366.4" width="4.91" height="22.9" fill="#df7f8a"/>
<rect x="90.42" y="381.0" width="4.91" height="8.3" fill="#df7f8a"/>
<rect x="95.33" y="381.4" width="4.91" height="7.9" fill="#8c8c8c"/>
<rect x="100.25" y="376.4" width="4.91" height="12.9" fill="#8c8c8c"/>
<rect x="105.16" y="379.4" width="4.91" height="9.9" fill="#df7f8a"/>
<rect x="110.08" y="382.4" width="4.91" height="6.9" fill="#df7f8a"/>
<rect x="114.99" y="383.4" width="4.91" height="5.9" fill="#df7f8a"/>
<rect x="119.91" y="383.4" width="4.91" height="5.9" fill="#8c8c8c"/>
<rect x="124.82" y="382.4" width="4.91" height="6.9" fill="#8c8c8c"/>
<rect x="129.74" y="383.4" width="4.92" height="5.9" fill="#df7f8a"/>
<rect x="134.65" y="381.4" width="4.92" height="7.9" fill="#8c8c8c"/>
<rect x="139.57" y="380.6" width="4.92" height="8.7" fill="#8c8c8c"/>
<rect x="144.48" y="379.4" width="4.92" height="9.9" fill="#df7f8a"/>
<rect x="149.40" y="379.4" width="4.92" height="9.9" fill="#8c8c8c"/>
<rect x="154.31" y="380.6" width="4.92" height="8.7" fill="#8c8c8c"/>
<rect x="159.23" y="379.4" width="4.92" height="9.9" fill="#df7f8a"/>
<rect x="164.14" y="373.4" width="4.92" height="15.9" fill="#df7f8a"/>
<rect x="169.06" y="375.4" width="4.92" height="13.9" fill="#8c8c8c"/>
<rect x="173.97" y="375.4" width="4.92" height="13.9" fill="#8c8c8c"/>
<rect x="178.89" y="379.4" width="4.92" height="9.9" fill="#8c8c8c"/>
<rect x="183.80" y="380.6" width="4.92" height="8.7" fill="#df7f8a"/>
<rect x="188.72" y="381.6" width="4.92" height="7.7" fill="#df7f8a"/>
<rect x="193.63" y="381.6" width="4.92" height="7.7" fill="#8c8c8c"/>
<rect x="198.55" y="379.4" width="4.92" height="9.9" fill="#8c8c8c"/>
<rect x="203.46" y="380.6" width="4.92" height="8.7" fill="#df7f8a"/>
<rect x="208.38" y="380.6" width="4.92" height="8.7" fill="#df7f8a"/>
<rect x="213.29" y="381.6" width="4.92" height="7.7" fill="#8c8c8c"/>
<rect x="218.21" y="382.6" width="4.92" height="6.7" fill="#8c8c8c"/>
<rect x="223.12" y="380.6" width="4.92" height="8.7" fill="#df7f8a"/>
<rect x="228.04" y="377.4" width="4.92" height="11.9" fill="#8c8c8c"/>
<rect x="232.95" y="376.4" width="4.92" height="12.9" fill="#8c8c8c"/>
<rect x="237.87" y="368.4" width="4.92" height="20.9" fill="#8c8c8c"/>
<rect x="242.78" y="379.4" width="4.92" height="9.9" fill="#df7f8a"/>
<rect x="247.70" y="383.6" width="4.92" height="5.7" fill="#df7f8a"/>
<rect x="252.61" y="383.6" width="4.92" height="5.7" fill="#8c8c8c"/>
<rect x="257.53" y="383.6" width="4.91" height="5.7" fill="#df7f8a"/>
<rect x="262.44" y="381.6" width="4.91" height="7.7" fill="#8c8c8c"/>
<rect x="267.36" y="379.4" width="4.91" height="9.9" fill="#df7f8a"/>
<rect x="272.27" y="378.4" width="4.91" height="10.9" fill="#df7f8a"/>
<rect x="277.19" y="380.6" width="4.91" height="8.7" fill="#8c8c8c"/>
<rect x="282.10" y="382.6" width="4.91" height="6.7" fill="#8c8c8c"/>
<rect x="287.02" y="382.6" width="4.91" height="6.7" fill="#df7f8a"/>
<rect x="291.93" y="382.6" width="4.91" height="6.7" fill="#df7f8a"/>
<rect x="296.85" y="381.4" width="4.91" height="7.9" fill="#df7f8a"/>
<rect x="301.76" y="383.6" width="4.91" height="5.7" fill="#8c8c8c"/>
<rect x="306.68" y="381.4" width="4.91" height="7.9" fill="#8c8c8c"/>
<rect x="311.59" y="383.6" width="4.91" height="5.7" fill="#df7f8a"/>
<rect x="316.51" y="383.6" width="4.91" height="5.7" fill="#df7f8a"/>
<rect x="321.42" y="379.4" width="4.91" height="9.9" fill="#df7f8a"/>
<rect x="326.34" y="376.4" width="4.91" height="12.9" fill="#8c8c8c"/>
<rect x="331.25" y="341.4" width="4.91" height="47.9" fill="#8c8c8c"/>
<rect x="336.17" y="364.4" width="4.91" height="24.9" fill="#8c8c8c"/>
<rect x="341.08" y="377.4" width="4.91" height="11.9" fill="#df7f8a"/>
<rect x="346.00" y="379.4" width="4.91" height="9.9" fill="#8c8c8c"/>
<rect x="350.91" y="379.4" width="4.91" height="9.9" fill="#8c8c8c"/>
<rect x="355.83" y="379.4" width="4.91" height="9.9" fill="#df7f8a"/>
<rect x="360.74" y="379.4" width="4.91" height="9.9" fill="#df7f8a"/>
<rect x="365.66" y="379.4" width="4.91" height="9.9" fill="#df7f8a"/>
<rect x="370.57" y="383.6" width="4.91" height="5.7" fill="#8c8c8c"/>
<rect x="375.49" y="381.4" width="4.91" height="7.9" fill="#8c8c8c"/>
<rect x="380.40" y="380.4" width="4.91" height="8.9" fill="#8c8c8c"/>
<rect x="385.32" y="378.4" width="4.91" height="10.9" fill="#df7f8a"/>
<rect x="390.23" y="382.6" width="4.91" height="6.7" fill="#8c8c8c"/>
<rect x="395.15" y="380.4" width="4.91" height="8.9" fill="#8c8c8c"/>
<rect x="400.06" y="381.4" width="4.91" height="7.9" fill="#df7f8a"/>
<rect x="404.98" y="383.6" width="4.91" height="5.7" fill="#8c8c8c"/>
<rect x="409.89" y="384.6" width="4.91" height="4.7" fill="#df7f8a"/>
<rect x="414.81" y="382.6" width="4.91" height="6.7" fill="#8c8c8c"/>
<rect x="419.72" y="384.6" width="4.91" height="4.7" fill="#df7f8a"/>
<rect x="424.64" y="383.6" width="4.91" height="5.7" fill="#8c8c8c"/>
<rect x="429.55" y="384.6" width="4.91" height="4.7" fill="#8c8c8c"/>
<rect x="434.47" y="382.6" width="4.91" height="6.7" fill="#8c8c8c"/>
<rect x="439.38" y="382.6" width="4.91" height="6.7" fill="#df7f8a"/>
<rect x="444.30" y="382.6" width="4.91" height="6.7" fill="#df7f8a"/>
<rect x="449.21" y="380.6" width="4.91" height="8.7" fill="#df7f8a"/>
<rect x="454.13" y="382.6" width="4.91" height="6.7" fill="#8c8c8c"/>
<rect x="459.04" y="381.4" width="4.91" height="7.9" fill="#df7f8a"/>
<rect x="463.96" y="380.0" width="4.91" height="9.3" fill="#8c8c8c"/>
<rect x="468.87" y="382.6" width="4.91" height="6.7" fill="#df7f8a"/>
<rect x="473.79" y="382.6" width="4.91" height="6.7" fill="#df7f8a"/>
<rect x="478.70" y="378.4" width="4.91" height="10.9" fill="#df7f8a"/>
<rect x="483.62" y="382.6" width="4.91" height="6.7" fill="#8c8c8c"/>
<rect x="488.53" y="382.6" width="4.91" height="6.7" fill="#8c8c8c"/>
<rect x="493.45" y="383.6" width="4.91" height="5.7" fill="#df7f8a"/>
<rect x="498.36" y="384.6" width="4.91" height="4.7" fill="#df7f8a"/>
<rect x="503.28" y="385.6" width="4.91" height="3.7" fill="#df7f8a"/>
<rect x="508.19" y="383.6" width="4.92" height="5.7" fill="#df7f8a"/>
<rect x="513.11" y="379.4" width="4.91" height="9.9" fill="#df7f8a"/>
<rect x="518.02" y="381.4" width="4.91" height="7.9" fill="#df7f8a"/>
<rect x="522.94" y="383.6" width="4.91" height="5.7" fill="#8c8c8c"/>
<rect x="527.85" y="381.4" width="4.91" height="7.9" fill="#df7f8a"/>
<rect x="532.77" y="381.4" width="4.91" height="7.9" fill="#8c8c8c"/>
<rect x="537.68" y="376.4" width="4.91" height="12.9" fill="#8c8c8c"/>
<rect x="542.60" y="379.4" width="4.91" height="9.9" fill="#df7f8a"/>
<rect x="547.51" y="381.4" width="4.91" height="7.9" fill="#8c8c8c"/>
<rect x="552.43" y="383.6" width="4.91" height="5.7" fill="#8c8c8c"/>
<rect x="557.34" y="377.4" width="4.91" height="11.9" fill="#8c8c8c"/>
<rect x="562.26" y="381.4" width="4.91" height="7.9" fill="#df7f8a"/>
<rect x="567.17" y="382.6" width="4.91" height="6.7" fill="#8c8c8c"/>
<rect x="572.09" y="382.6" width="4.91" height="6.7" fill="#8c8c8c"/>
<rect x="577.00" y="383.6" width="4.91" height="5.7" fill="#df7f8a"/>
<rect x="581.92" y="383.6" width="4.91" height="5.7" fill="#8c8c8c"/>
<rect x="586.83" y="385.6" width="4.91" height="3.7" fill="#df7f8a"/>
<rect x="591.75" y="384.6" width="4.91" height="4.7" fill="#8c8c8c"/>
<rect x="596.66" y="382.6" width="4.91" height="6.7" fill="#8c8c8c"/>
<rect x="601.58" y="382.6" width="4.91" height="6.7" fill="#8c8c8c"/>
<rect x="606.49" y="380.6" width="4.91" height="8.7" fill="#8c8c8c"/>
<rect x="611.41" y="382.6" width="4.91" height="6.7" fill="#df7f8a"/>
<rect x="616.32" y="383.6" width="4.91" height="5.7" fill="#8c8c8c"/>
<rect x="621.24" y="383.6" width="4.91" height="5.7" fill="#df7f8a"/>
<rect x="626.15" y="381.4" width="4.91" height="7.9" fill="#8c8c8c"/>
<rect x="631.07" y="377.4" width="4.91" height="11.9" fill="#8c8c8c"/>
<rect x="635.98" y="369.4" width="4.91" height="19.9" fill="#8c8c8c"/>
<path d="M17.00 389.3V369.4H21.61V389.3" fill="none" stroke="#4d4d4d" stroke-width="0.9"/>
<path d="M21.61 389.3V368.4H26.52V389.3" fill="none" stroke="#4d4d4d" stroke-width="0.9"/>
<path d="M26.52 389.3V357.4H31.44V389.3" fill="none" stroke="#4d4d4d" stroke-width="0.9"/>
<path d="M31.44 389.3V333.0H36.35V389.3" fill="none" stroke="#4d4d4d" stroke-width="0.9"/>
<path d="M36.35 389.3V365.4H41.27V389.3" fill="none" stroke="#c41230" stroke-width="0.9"/>
<path d="M41.27 389.3V373.6H46.18V389.3" fill="none" stroke="#c41230" stroke-width="0.9"/>
<path d="M46.18 389.3V379.4H51.10V389.3" fill="none" stroke="#c41230" stroke-width="0.9"/>
<path d="M51.10 389.3V374.0H56.01V389.3" fill="none" stroke="#c41230" stroke-width="0.9"/>
<path d="M56.01 389.3V379.4H60.93V389.3" fill="none" stroke="#4d4d4d" stroke-width="0.9"/>
<path d="M60.93 389.3V378.4H65.84V389.3" fill="none" stroke="#4d4d4d" stroke-width="0.9"/>
<path d="M65.84 389.3V372.4H70.76V389.3" fill="none" stroke="#4d4d4d" stroke-width="0.9"/>
<path d="M70.76 389.3V366.4H75.67V389.3" fill="none" stroke="#4d4d4d" stroke-width="0.9"/>
<path d="M75.67 389.3V379.4H80.59V389.3" fill="none" stroke="#4d4d4d" stroke-width="0.9"/>
<path d="M80.59 389.3V374.0H85.50V389.3" fill="none" stroke="#c41230" stroke-width="0.9"/>
<path d="M85.50 389.3V366.4H90.42V389.3" fill="none" stroke="#c41230" stroke-width="0.9"/>
<path d="M90.42 389.3V381.0H95.33V389.3" fill="none" stroke="#c41230" stroke-width="0.9"/>
<path d="M95.33 389.3V381.4H100.25V389.3" fill="none" stroke="#4d4d4d" stroke-width="0.9"/>
<path d="M100.25 389.3V376.4H105.16V389.3" fill="none" stroke="#4d4d4d" stroke-width="0.9"/>
<path d="M105.16 389.3V379.4H110.08V389.3" fill="none" stroke="#c41230" stroke-width="0.9"/>
<path d="M110.08 389.3V382.4H114.99V389.3" fill="none" stroke="#c41230" stroke-width="0.9"/>
<path d="M114.99 389.3V383.4H119.91V389.3" fill="none" stroke="#c41230" stroke-width="0.9"/>
<path d="M119.91 389.3V383.4H124.82V389.3" fill="none" stroke="#4d4d4d" stroke-width="0.9"/>
<path d="M124.82 389.3V382.4H129.74V389.3" fill="none" stroke="#4d4d4d" stroke-width="0.9"/>
<path d="M129.74 389.3V383.4H134.65V389.3" fill="none" stroke="#c41230" stroke-width="0.9"/>
<path d="M134.65 389.3V381.4H139.57V389.3" fill="none" stroke="#4d4d4d" stroke-width="0.9"/>
<path d="M139.57 389.3V380.6H144.48V389.3" fill="none" stroke="#4d4d4d" stroke-width="0.9"/>
<path d="M144.48 389.3V379.4H149.40V389.3" fill="none" stroke="#c41230" stroke-width="0.9"/>
<path d="M149.40 389.3V379.4H154.31V389.3" fill="none" stroke="#4d4d4d" stroke-width="0.9"/>
<path d="M154.31 389.3V380.6H159.23V389.3" fill="none" stroke="#4d4d4d" stroke-width="0.9"/>
<path d="M159.23 389.3V379.4H164.14V389.3" fill="none" stroke="#c41230" stroke-width="0.9"/>
<path d="M164.14 389.3V373.4H169.06V389.3" fill="none" stroke="#c41230" stroke-width="0.9"/>
<path d="M169.06 389.3V375.4H173.97V389.3" fill="none" stroke="#4d4d4d" stroke-width="0.9"/>
<path d="M173.97 389.3V375.4H178.89V389.3" fill="none" stroke="#4d4d4d" stroke-width="0.9"/>
<path d="M178.89 389.3V379.4H183.80V389.3" fill="none" stroke="#4d4d4d" stroke-width="0.9"/>
<path d="M183.80 389.3V380.6H188.72V389.3" fill="none" stroke="#c41230" stroke-width="0.9"/>
<path d="M188.72 389.3V381.6H193.63V389.3" fill="none" stroke="#c41230" stroke-width="0.9"/>
<path d="M193.63 389.3V381.6H198.55V389.3" fill="none" stroke="#4d4d4d" stroke-width="0.9"/>
<path d="M198.55 389.3V379.4H203.46V389.3" fill="none" stroke="#4d4d4d" stroke-width="0.9"/>
<path d="M203.46 389.3V380.6H208.38V389.3" fill="none" stroke="#c41230" stroke-width="0.9"/>
<path d="M208.38 389.3V380.6H213.29V389.3" fill="none" stroke="#c41230" stroke-width="0.9"/>
<path d="M213.29 389.3V381.6H218.21V389.3" fill="none" stroke="#4d4d4d" stroke-width="0.9"/>
<path d="M218.21 389.3V382.6H223.12V389.3" fill="none" stroke="#4d4d4d" stroke-width="0.9"/>
<path d="M223.12 389.3V380.6H228.04V389.3" fill="none" stroke="#c41230" stroke-width="0.9"/>
<path d="M228.04 389.3V377.4H232.95V389.3" fill="none" stroke="#4d4d4d" stroke-width="0.9"/>
<path d="M232.95 389.3V376.4H237.87V389.3" fill="none" stroke="#4d4d4d" stroke-width="0.9"/>
<path d="M237.87 389.3V368.4H242.78V389.3" fill="none" stroke="#4d4d4d" stroke-width="0.9"/>
<path d="M242.78 389.3V379.4H247.70V389.3" fill="none" stroke="#c41230" stroke-width="0.9"/>
<path d="M247.70 389.3V383.6H252.61V389.3" fill="none" stroke="#c41230" stroke-width="0.9"/>
<path d="M252.61 389.3V383.6H257.53V389.3" fill="none" stroke="#4d4d4d" stroke-width="0.9"/>
<path d="M257.53 389.3V383.6H262.44V389.3" fill="none" stroke="#c41230" stroke-width="0.9"/>
<path d="M262.44 389.3V381.6H267.36V389.3" fill="none" stroke="#4d4d4d" stroke-width="0.9"/>
<path d="M267.36 389.3V379.4H272.27V389.3" fill="none" stroke="#c41230" stroke-width="0.9"/>
<path d="M272.27 389.3V378.4H277.19V389.3" fill="none" stroke="#c41230" stroke-width="0.9"/>
<path d="M277.19 389.3V380.6H282.10V389.3" fill="none" stroke="#4d4d4d" stroke-width="0.9"/>
<path d="M282.10 389.3V382.6H287.02V389.3" fill="none" stroke="#4d4d4d" stroke-width="0.9"/>
<path d="M287.02 389.3V382.6H291.93V389.3" fill="none" stroke="#c41230" stroke-width="0.9"/>
<path d="M291.93 389.3V382.6H296.85V389.3" fill="none" stroke="#c41230" stroke-width="0.9"/>
<path d="M296.85 389.3V381.4H301.76V389.3" fill="none" stroke="#c41230" stroke-width="0.9"/>
<path d="M301.76 389.3V383.6H306.68V389.3" fill="none" stroke="#4d4d4d" stroke-width="0.9"/>
<path d="M306.68 389.3V381.4H311.59V389.3" fill="none" stroke="#4d4d4d" stroke-width="0.9"/>
<path d="M311.59 389.3V383.6H316.51V389.3" fill="none" stroke="#c41230" stroke-width="0.9"/>
<path d="M316.51 389.3V383.6H321.42V389.3" fill="none" stroke="#c41230" stroke-width="0.9"/>
<path d="M321.42 389.3V379.4H326.34V389.3" fill="none" stroke="#c41230" stroke-width="0.9"/>
<path d="M326.34 389.3V376.4H331.25V389.3" fill="none" stroke="#4d4d4d" stroke-width="0.9"/>
<path d="M331.25 389.3V341.4H336.17V389.3" fill="none" stroke="#4d4d4d" stroke-width="0.9"/>
<path d="M336.17 389.3V364.4H341.08V389.3" fill="none" stroke="#4d4d4d" stroke-width="0.9"/>
<path d="M341.08 389.3V377.4H346.00V389.3" fill="none" stroke="#c41230" stroke-width="0.9"/>
<path d="M346.00 389.3V379.4H350.91V389.3" fill="none" stroke="#4d4d4d" stroke-width="0.9"/>
<path d="M350.91 389.3V379.4H355.83V389.3" fill="none" stroke="#4d4d4d" stroke-width="0.9"/>
<path d="M355.83 389.3V379.4H360.74V389.3" fill="none" stroke="#c41230" stroke-width="0.9"/>
<path d="M360.74 389.3V379.4H365.66V389.3" fill="none" stroke="#c41230" stroke-width="0.9"/>
<path d="M365.66 389.3V379.4H370.57V389.3" fill="none" stroke="#c41230" stroke-width="0.9"/>
<path d="M370.57 389.3V383.6H375.49V389.3" fill="none" stroke="#4d4d4d" stroke-width="0.9"/>
<path d="M375.49 389.3V381.4H380.40V389.3" fill="none" stroke="#4d4d4d" stroke-width="0.9"/>
<path d="M380.40 389.3V380.4H385.32V389.3" fill="none" stroke="#4d4d4d" stroke-width="0.9"/>
<path d="M385.32 389.3V378.4H390.23V389.3" fill="none" stroke="#c41230" stroke-width="0.9"/>
<path d="M390.23 389.3V382.6H395.15V389.3" fill="none" stroke="#4d4d4d" stroke-width="0.9"/>
<path d="M395.15 389.3V380.4H400.06V389.3" fill="none" stroke="#4d4d4d" stroke-width="0.9"/>
<path d="M400.06 389.3V381.4H404.98V389.3" fill="none" stroke="#c41230" stroke-width="0.9"/>
<path d="M404.98 389.3V383.6H409.89V389.3" fill="none" stroke="#4d4d4d" stroke-width="0.9"/>
<path d="M409.89 389.3V384.6H414.81V389.3" fill="none" stroke="#c41230" stroke-width="0.9"/>
<path d="M414.81 389.3V382.6H419.72V389.3" fill="none" stroke="#4d4d4d" stroke-width="0.9"/>
<path d="M419.72 389.3V384.6H424.64V389.3" fill="none" stroke="#c41230" stroke-width="0.9"/>
<path d="M424.64 389.3V383.6H429.55V389.3" fill="none" stroke="#4d4d4d" stroke-width="0.9"/>
<path d="M429.55 389.3V384.6H434.47V389.3" fill="none" stroke="#4d4d4d" stroke-width="0.9"/>
<path d="M434.47 389.3V382.6H439.38V389.3" fill="none" stroke="#4d4d4d" stroke-width="0.9"/>
<path d="M439.38 389.3V382.6H444.30V389.3" fill="none" stroke="#c41230" stroke-width="0.9"/>
<path d="M444.30 389.3V382.6H449.21V389.3" fill="none" stroke="#c41230" stroke-width="0.9"/>
<path d="M449.21 389.3V380.6H454.13V389.3" fill="none" stroke="#c41230" stroke-width="0.9"/>
<path d="M454.13 389.3V382.6H459.04V389.3" fill="none" stroke="#4d4d4d" stroke-width="0.9"/>
<path d="M459.04 389.3V381.4H463.96V389.3" fill="none" stroke="#c41230" stroke-width="0.9"/>
<path d="M463.96 389.3V380.0H468.87V389.3" fill="none" stroke="#4d4d4d" stroke-width="0.9"/>
<path d="M468.87 389.3V382.6H473.79V389.3" fill="none" stroke="#c41230" stroke-width="0.9"/>
<path d="M473.79 389.3V382.6H478.70V389.3" fill="none" stroke="#c41230" stroke-width="0.9"/>
<path d="M478.70 389.3V378.4H483.62V389.3" fill="none" stroke="#c41230" stroke-width="0.9"/>
<path d="M483.62 389.3V382.6H488.53V389.3" fill="none" stroke="#4d4d4d" stroke-width="0.9"/>
<path d="M488.53 389.3V382.6H493.45V389.3" fill="none" stroke="#4d4d4d" stroke-width="0.9"/>
<path d="M493.45 389.3V383.6H498.36V389.3" fill="none" stroke="#c41230" stroke-width="0.9"/>
<path d="M498.36 389.3V384.6H503.28V389.3" fill="none" stroke="#c41230" stroke-width="0.9"/>
<path d="M503.28 389.3V385.6H508.19V389.3" fill="none" stroke="#c41230" stroke-width="0.9"/>
<path d="M508.19 389.3V383.6H513.11V389.3" fill="none" stroke="#c41230" stroke-width="0.9"/>
<path d="M513.11 389.3V379.4H518.02V389.3" fill="none" stroke="#c41230" stroke-width="0.9"/>
<path d="M518.02 389.3V381.4H522.94V389.3" fill="none" stroke="#c41230" stroke-width="0.9"/>
<path d="M522.94 389.3V383.6H527.85V389.3" fill="none" stroke="#4d4d4d" stroke-width="0.9"/>
<path d="M527.85 389.3V381.4H532.77V389.3" fill="none" stroke="#c41230" stroke-width="0.9"/>
<path d="M532.77 389.3V381.4H537.68V389.3" fill="none" stroke="#4d4d4d" stroke-width="0.9"/>
<path d="M537.68 389.3V376.4H542.60V389.3" fill="none" stroke="#4d4d4d" stroke-width="0.9"/>
<path d="M542.60 389.3V379.4H547.51V389.3" fill="none" stroke="#c41230" stroke-width="0.9"/>
<path d="M547.51 389.3V381.4H552.43V389.3" fill="none" stroke="#4d4d4d" stroke-width="0.9"/>
<path d="M552.43 389.3V383.6H557.34V389.3" fill="none" stroke="#4d4d4d" stroke-width="0.9"/>
<path d="M557.34 389.3V377.4H562.26V389.3" fill="none" stroke="#4d4d4d" stroke-width="0.9"/>
<path d="M562.26 389.3V381.4H567.17V389.3" fill="none" stroke="#c41230" stroke-width="0.9"/>
<path d="M567.17 389.3V382.6H572.09V389.3" fill="none" stroke="#4d4d4d" stroke-width="0.9"/>
<path d="M572.09 389.3V382.6H577.00V389.3" fill="none" stroke="#4d4d4d" stroke-width="0.9"/>
<path d="M577.00 389.3V383.6H581.92V389.3" fill="none" stroke="#c41230" stroke-width="0.9"/>
<path d="M581.92 389.3V383.6H586.83V389.3" fill="none" stroke="#4d4d4d" stroke-width="0.9"/>
<path d="M586.83 389.3V385.6H591.75V389.3" fill="none" stroke="#c41230" stroke-width="0.9"/>
<path d="M591.75 389.3V384.6H596.66V389.3" fill="none" stroke="#4d4d4d" stroke-width="0.9"/>
<path d="M596.66 389.3V382.6H601.58V389.3" fill="none" stroke="#4d4d4d" stroke-width="0.9"/>
<path d="M601.58 389.3V382.6H606.49V389.3" fill="none" stroke="#4d4d4d" stroke-width="0.9"/>
<path d="M606.49 389.3V380.6H611.41V389.3" fill="none" stroke="#4d4d4d" stroke-width="0.9"/>
<path d="M611.41 389.3V382.6H616.32V389.3" fill="none" stroke="#c41230" stroke-width="0.9"/>
<path d="M616.32 389.3V383.6H621.24V389.3" fill="none" stroke="#4d4d4d" stroke-width="0.9"/>
<path d="M621.24 389.3V383.6H626.15V389.3" fill="none" stroke="#c41230" stroke-width="0.9"/>
<path d="M626.15 389.3V381.4H631.07V389.3" fill="none" stroke="#4d4d4d" stroke-width="0.9"/>
<path d="M631.07 389.3V377.4H635.98V389.3" fill="none" stroke="#4d4d4d" stroke-width="0.9"/>
<path d="M635.98 389.3V369.4H640.90V389.3" fill="none" stroke="#4d4d4d" stroke-width="0.9"/>
<path d="M17.0 371.6 L22.0 373.6 L30.0 373.6 L33.0 372.6 L50.0 373.2 L106.0 373.2 L112.0 374.4 L150.0 374.5 L186.0 374.6 L190.0 375.6 L256.0 375.6 L260.0 376.5 L284.0 376.4 L288.0 377.4 L320.0 377.4 L327.0 379.4 L334.0 378.4 L368.0 378.4 L372.0 379.5 L468.0 379.6 L470.0 381.0 L520.0 380.8 L624.0 380.6 L628.0 381.6 L637.5 381.6" fill="none" stroke="#00008b" stroke-width="1.3" stroke-linejoin="round" stroke-linecap="round"/>
<rect x="16.5" y="309.5" width="643" height="80" fill="none" stroke="#b2b2b2" stroke-width="1"/>
<path d="M18.5 390v2.2M23.5 390v1.2M28.5 390v1.2M33.5 390v2.2M38.5 390v1.2M43.5 390v2.2M48.5 390v1.2M52.5 390v1.2M57.5 390v1.2M62.5 390v1.2M67.5 390v2.2M72.5 390v1.2M77.5 390v1.2M82.5 390v1.2M87.5 390v1.2M92.5 390v2.2M97.5 390v1.2M102.5 390v1.2M107.5 390v1.2M111.5 390v1.2M116.5 390v2.2M121.5 390v1.2M126.5 390v1.2M131.5 390v1.2M136.5 390v2.2M141.5 390v1.2M146.5 390v1.2M151.5 390v1.2M156.5 390v2.2M161.5 390v1.2M166.5 390v1.2M170.5 390v1.2M175.5 390v1.2M180.5 390v2.2M185.5 390v1.2M190.5 390v1.2M195.5 390v1.2M200.5 390v2.2M205.5 390v1.2M210.5 390v1.2M215.5 390v1.2M220.5 390v1.2M224.5 390v2.2M229.5 390v1.2M234.5 390v2.2M239.5 390v1.2M244.5 390v1.2M249.5 390v2.2M254.5 390v1.2M259.5 390v1.2M264.5 390v1.2M269.5 390v1.2M274.5 390v2.2M279.5 390v1.2M283.5 390v1.2M288.5 390v1.2M293.5 390v1.2M298.5 390v2.2M303.5 390v1.2M308.5 390v1.2M313.5 390v1.2M318.5 390v2.2M323.5 390v1.2M328.5 390v2.2M333.5 390v1.2M338.5 390v1.2M342.5 390v2.2M347.5 390v1.2M352.5 390v1.2M357.5 390v1.2M362.5 390v1.2M367.5 390v2.2M372.5 390v1.2M377.5 390v1.2M382.5 390v1.2M387.5 390v1.2M392.5 390v2.2M397.5 390v1.2M401.5 390v1.2M406.5 390v1.2M411.5 390v1.2M416.5 390v2.2M421.5 390v1.2M426.5 390v1.2M431.5 390v1.2M436.5 390v1.2M441.5 390v2.2M446.5 390v1.2M451.5 390v1.2M455.5 390v1.2M460.5 390v2.2M465.5 390v1.2M470.5 390v1.2M475.5 390v1.2M480.5 390v1.2M485.5 390v2.2M490.5 390v1.2M495.5 390v1.2M500.5 390v1.2M505.5 390v1.2M510.5 390v2.2M514.5 390v1.2M519.5 390v1.2M524.5 390v1.2M529.5 390v1.2M534.5 390v2.2M539.5 390v1.2M544.5 390v1.2M549.5 390v1.2M554.5 390v1.2M559.5 390v2.2M564.5 390v1.2M569.5 390v1.2M573.5 390v1.2M578.5 390v1.2M583.5 390v2.2M588.5 390v1.2M593.5 390v1.2M598.5 390v1.2M603.5 390v1.2M608.5 390v2.2M613.5 390v1.2M618.5 390v1.2M623.5 390v1.2M628.5 390v1.2M632.5 390v2.2M637.5 390v1.2M642.5 390v2.2M647.5 390v1.2M652.5 390v2.2M657.5 390v1.2" stroke="#aaa" stroke-width="1"/>
<path d="M18.5 309v-2.2M23.5 309v-1.2M28.5 309v-1.2M33.5 309v-2.2M38.5 309v-1.2M43.5 309v-2.2M48.5 309v-1.2M52.5 309v-1.2M57.5 309v-1.2M62.5 309v-1.2M67.5 309v-2.2M72.5 309v-1.2M77.5 309v-1.2M82.5 309v-1.2M87.5 309v-1.2M92.5 309v-2.2M97.5 309v-1.2M102.5 309v-1.2M107.5 309v-1.2M111.5 309v-1.2M116.5 309v-2.2M121.5 309v-1.2M126.5 309v-1.2M131.5 309v-1.2M136.5 309v-2.2M141.5 309v-1.2M146.5 309v-1.2M151.5 309v-1.2M156.5 309v-2.2M161.5 309v-1.2M166.5 309v-1.2M170.5 309v-1.2M175.5 309v-1.2M180.5 309v-2.2M185.5 309v-1.2M190.5 309v-1.2M195.5 309v-1.2M200.5 309v-2.2M205.5 309v-1.2M210.5 309v-1.2M215.5 309v-1.2M220.5 309v-1.2M224.5 309v-2.2M229.5 309v-1.2M234.5 309v-2.2M239.5 309v-1.2M244.5 309v-1.2M249.5 309v-2.2M254.5 309v-1.2M259.5 309v-1.2M264.5 309v-1.2M269.5 309v-1.2M274.5 309v-2.2M279.5 309v-1.2M283.5 309v-1.2M288.5 309v-1.2M293.5 309v-1.2M298.5 309v-2.2M303.5 309v-1.2M308.5 309v-1.2M313.5 309v-1.2M318.5 309v-2.2M323.5 309v-1.2M328.5 309v-2.2M333.5 309v-1.2M338.5 309v-1.2M342.5 309v-2.2M347.5 309v-1.2M352.5 309v-1.2M357.5 309v-1.2M362.5 309v-1.2M367.5 309v-2.2M372.5 309v-1.2M377.5 309v-1.2M382.5 309v-1.2M387.5 309v-1.2M392.5 309v-2.2M397.5 309v-1.2M401.5 309v-1.2M406.5 309v-1.2M411.5 309v-1.2M416.5 309v-2.2M421.5 309v-1.2M426.5 309v-1.2M431.5 309v-1.2M436.5 309v-1.2M441.5 309v-2.2M446.5 309v-1.2M451.5 309v-1.2M455.5 309v-1.2M460.5 309v-2.2M465.5 309v-1.2M470.5 309v-1.2M475.5 309v-1.2M480.5 309v-1.2M485.5 309v-2.2M490.5 309v-1.2M495.5 309v-1.2M500.5 309v-1.2M505.5 309v-1.2M510.5 309v-2.2M514.5 309v-1.2M519.5 309v-1.2M524.5 309v-1.2M529.5 309v-1.2M534.5 309v-2.2M539.5 309v-1.2M544.5 309v-1.2M549.5 309v-1.2M554.5 309v-1.2M559.5 309v-2.2M564.5 309v-1.2M569.5 309v-1.2M573.5 309v-1.2M578.5 309v-1.2M583.5 309v-2.2M588.5 309v-1.2M593.5 309v-1.2M598.5 309v-1.2M603.5 309v-1.2M608.5 309v-2.2M613.5 309v-1.2M618.5 309v-1.2M623.5 309v-1.2M628.5 309v-1.2M632.5 309v-2.2M637.5 309v-1.2M642.5 309v-2.2M647.5 309v-1.2M652.5 309v-2.2M657.5 309v-1.2" stroke="#aaa" stroke-width="1"/>
<g fill="#777" stroke="#555" stroke-width="0.6">
<rect x="19.4" y="315.3" width="2.3" height="4.4"/><rect x="22.4" y="311.8" width="2.3" height="7.9"/><rect x="25.4" y="313.8" width="2.3" height="5.9"/>
</g>
<text x="31.6" y="319.6" textLength="101.62" lengthAdjust="spacingAndGlyphs" style="font-size:9px;letter-spacing:0.6px" class="v" >Volume 5,496,614</text>
<path d="M19 327H27.6" stroke="#00008b" stroke-width="1.6"/>
<text x="29.4" y="330.4" textLength="77.24" lengthAdjust="spacingAndGlyphs" style="font-size:9.7px;fill:#00008b" >MA(60) 2,079,515</text>
<text x="662.2" y="320.1" textLength="21.3" lengthAdjust="spacingAndGlyphs" style="font-size:9.8px" >20M</text>
<text x="662.2" y="338.1" textLength="21.3" lengthAdjust="spacingAndGlyphs" style="font-size:9.8px" >15M</text>
<text x="662.2" y="356.1" textLength="21.3" lengthAdjust="spacingAndGlyphs" style="font-size:9.8px" >10M</text>
<text x="668.3" y="374.1" textLength="15.2" lengthAdjust="spacingAndGlyphs" style="font-size:9.8px" >5M</text>
<text x="11.55" y="399.6" textLength="11.4" lengthAdjust="spacingAndGlyphs">28</text>
<text x="23.55" y="399.6" style="font-weight:bold;font-size:10.8px" textLength="19.9" lengthAdjust="spacingAndGlyphs">Dec</text>
<text x="61.20" y="399.6" textLength="11.4" lengthAdjust="spacingAndGlyphs">12</text>
<text x="86.40" y="399.6" textLength="11.4" lengthAdjust="spacingAndGlyphs">19</text>
<text x="109.70" y="399.6" textLength="11.4" lengthAdjust="spacingAndGlyphs">27</text>
<text x="123.45" y="399.6" style="font-weight:bold;font-size:10.8px" textLength="23.9" lengthAdjust="spacingAndGlyphs">2023</text>
<text x="153.50" y="399.6" textLength="6.0" lengthAdjust="spacingAndGlyphs">9</text>
<text x="174.05" y="399.6" textLength="11.4" lengthAdjust="spacingAndGlyphs">17</text>
<text x="193.90" y="399.6" textLength="11.4" lengthAdjust="spacingAndGlyphs">23</text>
<text x="224.70" y="399.6" style="font-weight:bold;font-size:10.8px" textLength="19.8" lengthAdjust="spacingAndGlyphs">Feb</text>
<text x="246.00" y="399.6" textLength="6.0" lengthAdjust="spacingAndGlyphs">6</text>
<text x="268.30" y="399.6" textLength="11.4" lengthAdjust="spacingAndGlyphs">13</text>
<text x="291.55" y="399.6" textLength="11.4" lengthAdjust="spacingAndGlyphs">21</text>
<text x="319.00" y="399.6" style="font-weight:bold;font-size:10.8px" textLength="20.0" lengthAdjust="spacingAndGlyphs">Mar</text>
<text x="339.25" y="399.6" textLength="6.0" lengthAdjust="spacingAndGlyphs">6</text>
<text x="361.55" y="399.6" textLength="11.4" lengthAdjust="spacingAndGlyphs">13</text>
<text x="385.90" y="399.6" textLength="11.4" lengthAdjust="spacingAndGlyphs">20</text>
<text x="410.20" y="399.6" textLength="11.4" lengthAdjust="spacingAndGlyphs">27</text>
<text x="432.70" y="399.6" style="font-weight:bold;font-size:10.8px" textLength="19.6" lengthAdjust="spacingAndGlyphs">Apr</text>
<text x="454.90" y="399.6" textLength="11.4" lengthAdjust="spacingAndGlyphs">10</text>
<text x="479.55" y="399.6" textLength="11.4" lengthAdjust="spacingAndGlyphs">17</text>
<text x="504.30" y="399.6" textLength="11.4" lengthAdjust="spacingAndGlyphs">24</text>
<text x="523.45" y="399.6" style="font-weight:bold;font-size:10.8px" textLength="22.6" lengthAdjust="spacingAndGlyphs">May</text>
<text x="556.75" y="399.6" textLength="6.0" lengthAdjust="spacingAndGlyphs">8</text>
<text x="578.05" y="399.6" textLength="11.4" lengthAdjust="spacingAndGlyphs">15</text>
<text x="602.20" y="399.6" textLength="11.4" lengthAdjust="spacingAndGlyphs">22</text>
<text x="634.00" y="399.6" style="font-weight:bold;font-size:10.8px" textLength="19.5" lengthAdjust="spacingAndGlyphs">Jun</text>
<path d="M18.5 403v1.2M33.5 403v1.2M43.5 403v1.2M67.5 403v1.2M92.5 403v1.2M116.5 403v1.2M136.5 403v1.2M156.5 403v1.2M180.5 403v1.2M200.5 403v1.2M224.5 403v1.2M234.5 403v1.2M249.5 403v1.2M274.5 403v1.2M298.5 403v1.2M318.5 403v1.2M328.5 403v1.2M342.5 403v1.2M367.5 403v1.2M392.5 403v1.2M416.5 403v1.2M441.5 403v1.2M460.5 403v1.2M485.5 403v1.2M510.5 403v1.2M534.5 403v1.2M559.5 403v1.2M583.5 403v1.2M608.5 403v1.2M632.5 403v1.2M642.5 403v1.2M652.5 403v1.2" stroke="#c8c8c8" stroke-width="1"/>
</svg>
</body></html>
